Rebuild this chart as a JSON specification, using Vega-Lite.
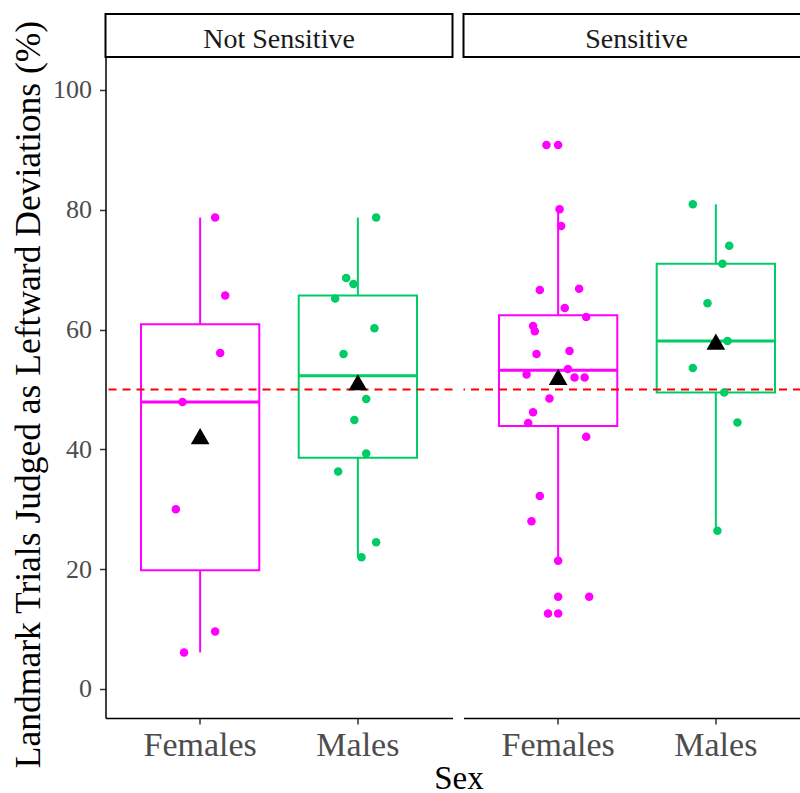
{
  "$schema": "https://vega.github.io/schema/vega-lite/v6.json",
  "padding": {"left": 11.5, "top": 13, "right": 0, "bottom": 0},
  "background": "white",
  "title": {"text": "Sex", "orient": "bottom", "anchor": "middle", "dx": 51, "offset": 21, "baseline": "alphabetic", "font": "Liberation Serif", "fontSize": 33, "fontWeight": "normal", "color": "black"},
  "config": {
    "view": {"stroke": null},
    "font": "Liberation Serif",
    "text": {"font": "Liberation Serif"},
    "axis": {"labelFont": "Liberation Serif", "titleFont": "Liberation Serif"}
  },
  "datasets": {
    "summary": [
      {"panel": "Not Sensitive", "sex": "Females", "lower": 6.1, "q1": 19.8, "median": 47.9, "q3": 60.9, "upper": 78.7, "mean": 42.2},
      {"panel": "Not Sensitive", "sex": "Males", "lower": 22.0, "q1": 38.6, "median": 52.3, "q3": 65.7, "upper": 78.7, "mean": 51.2},
      {"panel": "Sensitive", "sex": "Females", "lower": 21.4, "q1": 43.9, "median": 53.2, "q3": 62.4, "upper": 80.1, "mean": 52.1},
      {"panel": "Sensitive", "sex": "Males", "lower": 26.4, "q1": 49.5, "median": 58.1, "q3": 71.0, "upper": 80.9, "mean": 58.0}
    ],
    "points": [
      {"panel": "Not Sensitive", "sex": "Females", "value": 78.7, "jitter": 0.095},
      {"panel": "Not Sensitive", "sex": "Females", "value": 65.7, "jitter": 0.159},
      {"panel": "Not Sensitive", "sex": "Females", "value": 56.1, "jitter": 0.127},
      {"panel": "Not Sensitive", "sex": "Females", "value": 47.9, "jitter": -0.112},
      {"panel": "Not Sensitive", "sex": "Females", "value": 30.0, "jitter": -0.154},
      {"panel": "Not Sensitive", "sex": "Females", "value": 9.6, "jitter": 0.095},
      {"panel": "Not Sensitive", "sex": "Females", "value": 6.1, "jitter": -0.102},
      {"panel": "Not Sensitive", "sex": "Males", "value": 78.7, "jitter": 0.116},
      {"panel": "Not Sensitive", "sex": "Males", "value": 68.6, "jitter": -0.074},
      {"panel": "Not Sensitive", "sex": "Males", "value": 67.6, "jitter": -0.028},
      {"panel": "Not Sensitive", "sex": "Males", "value": 65.2, "jitter": -0.144},
      {"panel": "Not Sensitive", "sex": "Males", "value": 60.2, "jitter": 0.105},
      {"panel": "Not Sensitive", "sex": "Males", "value": 55.9, "jitter": -0.091},
      {"panel": "Not Sensitive", "sex": "Males", "value": 48.4, "jitter": 0.053},
      {"panel": "Not Sensitive", "sex": "Males", "value": 44.9, "jitter": -0.022},
      {"panel": "Not Sensitive", "sex": "Males", "value": 39.3, "jitter": 0.053},
      {"panel": "Not Sensitive", "sex": "Males", "value": 36.3, "jitter": -0.125},
      {"panel": "Not Sensitive", "sex": "Males", "value": 24.5, "jitter": 0.116},
      {"panel": "Not Sensitive", "sex": "Males", "value": 22.0, "jitter": 0.023},
      {"panel": "Sensitive", "sex": "Females", "value": 90.8, "jitter": -0.074},
      {"panel": "Sensitive", "sex": "Females", "value": 90.8, "jitter": 0.0},
      {"panel": "Sensitive", "sex": "Females", "value": 80.1, "jitter": 0.009},
      {"panel": "Sensitive", "sex": "Females", "value": 77.3, "jitter": 0.019},
      {"panel": "Sensitive", "sex": "Females", "value": 66.6, "jitter": -0.116},
      {"panel": "Sensitive", "sex": "Females", "value": 66.8, "jitter": 0.133},
      {"panel": "Sensitive", "sex": "Females", "value": 63.6, "jitter": 0.042},
      {"panel": "Sensitive", "sex": "Females", "value": 62.1, "jitter": 0.178},
      {"panel": "Sensitive", "sex": "Females", "value": 60.6, "jitter": -0.159},
      {"panel": "Sensitive", "sex": "Females", "value": 59.7, "jitter": -0.148},
      {"panel": "Sensitive", "sex": "Females", "value": 55.9, "jitter": -0.137},
      {"panel": "Sensitive", "sex": "Females", "value": 56.4, "jitter": 0.072},
      {"panel": "Sensitive", "sex": "Females", "value": 53.4, "jitter": 0.062},
      {"panel": "Sensitive", "sex": "Females", "value": 52.5, "jitter": -0.2},
      {"panel": "Sensitive", "sex": "Females", "value": 52.0, "jitter": 0.104},
      {"panel": "Sensitive", "sex": "Females", "value": 52.0, "jitter": 0.168},
      {"panel": "Sensitive", "sex": "Females", "value": 48.5, "jitter": -0.055},
      {"panel": "Sensitive", "sex": "Females", "value": 46.2, "jitter": -0.159},
      {"panel": "Sensitive", "sex": "Females", "value": 44.4, "jitter": -0.19},
      {"panel": "Sensitive", "sex": "Females", "value": 42.1, "jitter": 0.178},
      {"panel": "Sensitive", "sex": "Females", "value": 32.2, "jitter": -0.116},
      {"panel": "Sensitive", "sex": "Females", "value": 28.0, "jitter": -0.169},
      {"panel": "Sensitive", "sex": "Females", "value": 21.4, "jitter": 0.0},
      {"panel": "Sensitive", "sex": "Females", "value": 15.4, "jitter": 0.0},
      {"panel": "Sensitive", "sex": "Females", "value": 15.4, "jitter": 0.197},
      {"panel": "Sensitive", "sex": "Females", "value": 12.6, "jitter": -0.064},
      {"panel": "Sensitive", "sex": "Females", "value": 12.6, "jitter": 0.0},
      {"panel": "Sensitive", "sex": "Males", "value": 80.9, "jitter": -0.146},
      {"panel": "Sensitive", "sex": "Males", "value": 74.0, "jitter": 0.085},
      {"panel": "Sensitive", "sex": "Males", "value": 71.0, "jitter": 0.042},
      {"panel": "Sensitive", "sex": "Males", "value": 64.4, "jitter": -0.053},
      {"panel": "Sensitive", "sex": "Males", "value": 58.1, "jitter": 0.074},
      {"panel": "Sensitive", "sex": "Males", "value": 53.6, "jitter": -0.146},
      {"panel": "Sensitive", "sex": "Males", "value": 49.5, "jitter": 0.053},
      {"panel": "Sensitive", "sex": "Males", "value": 44.5, "jitter": 0.137},
      {"panel": "Sensitive", "sex": "Males", "value": 26.4, "jitter": 0.01}
    ]
  },
  "spacing": 9,
  "hconcat": [
    {
      "spacing": 0,
      "bounds": "flush",
      "vconcat": [
        {
          "width": 347,
          "height": 43,
          "view": {"stroke": "black", "strokeWidth": 2, "fill": "white"},
          "data": {"values": [{"panel": "Not Sensitive"}]},
          "mark": {"type": "text", "font": "Liberation Serif", "fontSize": 28, "color": "#1A1A1A", "baseline": "alphabetic", "dy": 12},
          "encoding": {"text": {"field": "panel"}}
        },
        {
          "width": 347,
          "height": 661,
          "encoding": {
            "x": {
              "field": "sex", "type": "nominal", "sort": ["Females", "Males"],
              "scale": {"type": "band", "paddingInner": 0.25, "paddingOuter": 0.225},
              "axis": {
                "title": null,
                "labelAngle": 0, "labelFontSize": 34, "labelColor": "#4D4D4D", "labelBaseline": "alphabetic", "labelPadding": 31,
                "tickSize": 6, "tickColor": "#333333", "tickWidth": 1.5, "domainColor": "black", "domainWidth": 1.5, "grid": false
              }
            }
          },
          "layer": [
            {
              "data": {"name": "summary"},
              "transform": [{"filter": "datum.panel === 'Not Sensitive'"}],
              "layer": [
                {
                  "mark": {"type": "bar", "fill": "white", "strokeWidth": 2, "width": 118.3},
                  "encoding": {
                    "y": {
                      "field": "q1", "type": "quantitative",
                      "scale": {"domain": [-4.85, 105.5], "nice": false, "zero": false},
                      "axis": {
                        "values": [0, 20, 40, 60, 80, 100], "grid": false,
                        "title": "Landmark Trials Judged as Leftward Deviations (%)",
                        "domainColor": "black", "domainWidth": 1.5, "tickColor": "#333333", "tickSize": 6, "tickWidth": 1.5,
                        "labelFontSize": 26, "labelColor": "#4D4D4D", "labelPadding": 8,
                        "titleFontSize": 35.5, "titleFontWeight": "normal", "titleColor": "black",
                        "titleX": -77, "titleY": 337, "titleBaseline": "middle"
                      }
                    },
                    "y2": {"field": "q3"},
                    "stroke": {"field": "sex", "type": "nominal", "scale": {"domain": ["Females", "Males"], "range": ["#FF00FF", "#00CC66"]}, "legend": null}
                  }
                },
                {
                  "mark": {"type": "rule", "strokeWidth": 2},
                  "encoding": {
                    "y": {"field": "lower", "type": "quantitative", "scale": {"domain": [-4.85, 105.5], "nice": false, "zero": false}},
                    "y2": {"field": "q1"},
                    "stroke": {"field": "sex", "type": "nominal", "scale": {"domain": ["Females", "Males"], "range": ["#FF00FF", "#00CC66"]}, "legend": null}
                  }
                },
                {
                  "mark": {"type": "rule", "strokeWidth": 2},
                  "encoding": {
                    "y": {"field": "q3", "type": "quantitative", "scale": {"domain": [-4.85, 105.5], "nice": false, "zero": false}},
                    "y2": {"field": "upper"},
                    "stroke": {"field": "sex", "type": "nominal", "scale": {"domain": ["Females", "Males"], "range": ["#FF00FF", "#00CC66"]}, "legend": null}
                  }
                },
                {
                  "mark": {"type": "tick", "size": 118, "thickness": 3, "opacity": 1},
                  "encoding": {
                    "y": {"field": "median", "type": "quantitative", "scale": {"domain": [-4.85, 105.5], "nice": false, "zero": false}},
                    "color": {"field": "sex", "type": "nominal", "scale": {"domain": ["Females", "Males"], "range": ["#FF00FF", "#00CC66"]}, "legend": null}
                  }
                }
              ]
            },
            {
              "data": {"values": [{"ref": 50}]},
              "mark": {"type": "rule", "color": "#FF0000", "strokeWidth": 2, "strokeDash": [8, 6]},
              "encoding": {"x": null, "y": {"field": "ref", "type": "quantitative", "scale": {"domain": [-4.85, 105.5], "nice": false, "zero": false}}}
            },
            {
              "data": {"name": "points"},
              "transform": [{"filter": "datum.panel === 'Not Sensitive'"}],
              "mark": {"type": "point", "filled": true, "size": 72, "opacity": 1, "shape": "circle"},
              "encoding": {
                "xOffset": {"field": "jitter", "type": "quantitative", "scale": {"domain": [-0.375, 0.375]}},
                "y": {"field": "value", "type": "quantitative", "scale": {"domain": [-4.85, 105.5], "nice": false, "zero": false}},
                "color": {"field": "sex", "type": "nominal", "scale": {"domain": ["Females", "Males"], "range": ["#FF00FF", "#00CC66"]}, "legend": null}
              }
            },
            {
              "data": {"name": "summary"},
              "transform": [{"filter": "datum.panel === 'Not Sensitive'"}],
              "mark": {"type": "point", "filled": true, "shape": "triangle-up", "size": 350, "color": "black", "opacity": 1},
              "encoding": {
                "y": {"field": "mean", "type": "quantitative", "scale": {"domain": [-4.85, 105.5], "nice": false, "zero": false}}
              }
            }
          ]
        }
      ]
    },
    {
      "spacing": 0,
      "bounds": "flush",
      "vconcat": [
        {
          "width": 340,
          "height": 43,
          "view": {"stroke": "black", "strokeWidth": 2, "fill": "white"},
          "data": {"values": [{"panel": "Sensitive"}]},
          "mark": {"type": "text", "font": "Liberation Serif", "fontSize": 28, "color": "#1A1A1A", "baseline": "alphabetic", "dy": 12, "dx": 3},
          "encoding": {"text": {"field": "panel"}}
        },
        {
          "width": 337.5,
          "height": 661,
          "encoding": {
            "x": {
              "field": "sex", "type": "nominal", "sort": ["Females", "Males"],
              "scale": {"type": "band", "paddingInner": 0.25, "paddingOuter": 0.195, "align": 0.577},
              "axis": {
                "title": null,
                "labelAngle": 0, "labelFontSize": 34, "labelColor": "#4D4D4D", "labelBaseline": "alphabetic", "labelPadding": 31,
                "tickSize": 6, "tickColor": "#333333", "tickWidth": 1.5, "domainColor": "black", "domainWidth": 1.5, "grid": false
              }
            }
          },
          "layer": [
            {
              "data": {"name": "summary"},
              "transform": [{"filter": "datum.panel === 'Sensitive'"}],
              "layer": [
                {
                  "mark": {"type": "bar", "fill": "white", "strokeWidth": 2, "width": 118.3},
                  "encoding": {
                    "y": {"field": "q1", "type": "quantitative", "scale": {"domain": [-4.85, 105.5], "nice": false, "zero": false}, "axis": null},
                    "y2": {"field": "q3"},
                    "stroke": {"field": "sex", "type": "nominal", "scale": {"domain": ["Females", "Males"], "range": ["#FF00FF", "#00CC66"]}, "legend": null}
                  }
                },
                {
                  "mark": {"type": "rule", "strokeWidth": 2},
                  "encoding": {
                    "y": {"field": "lower", "type": "quantitative", "scale": {"domain": [-4.85, 105.5], "nice": false, "zero": false}, "axis": null},
                    "y2": {"field": "q1"},
                    "stroke": {"field": "sex", "type": "nominal", "scale": {"domain": ["Females", "Males"], "range": ["#FF00FF", "#00CC66"]}, "legend": null}
                  }
                },
                {
                  "mark": {"type": "rule", "strokeWidth": 2},
                  "encoding": {
                    "y": {"field": "q3", "type": "quantitative", "scale": {"domain": [-4.85, 105.5], "nice": false, "zero": false}, "axis": null},
                    "y2": {"field": "upper"},
                    "stroke": {"field": "sex", "type": "nominal", "scale": {"domain": ["Females", "Males"], "range": ["#FF00FF", "#00CC66"]}, "legend": null}
                  }
                },
                {
                  "mark": {"type": "tick", "size": 118, "thickness": 3, "opacity": 1},
                  "encoding": {
                    "y": {"field": "median", "type": "quantitative", "scale": {"domain": [-4.85, 105.5], "nice": false, "zero": false}, "axis": null},
                    "color": {"field": "sex", "type": "nominal", "scale": {"domain": ["Females", "Males"], "range": ["#FF00FF", "#00CC66"]}, "legend": null}
                  }
                }
              ]
            },
            {
              "data": {"values": [{"ref": 50}]},
              "mark": {"type": "rule", "color": "#FF0000", "strokeWidth": 2, "strokeDash": [8, 6]},
              "encoding": {"x": null, "y": {"field": "ref", "type": "quantitative", "scale": {"domain": [-4.85, 105.5], "nice": false, "zero": false}, "axis": null}}
            },
            {
              "data": {"name": "points"},
              "transform": [{"filter": "datum.panel === 'Sensitive'"}],
              "mark": {"type": "point", "filled": true, "size": 72, "opacity": 1, "shape": "circle"},
              "encoding": {
                "xOffset": {"field": "jitter", "type": "quantitative", "scale": {"domain": [-0.375, 0.375]}},
                "y": {"field": "value", "type": "quantitative", "scale": {"domain": [-4.85, 105.5], "nice": false, "zero": false}, "axis": null},
                "color": {"field": "sex", "type": "nominal", "scale": {"domain": ["Females", "Males"], "range": ["#FF00FF", "#00CC66"]}, "legend": null}
              }
            },
            {
              "data": {"name": "summary"},
              "transform": [{"filter": "datum.panel === 'Sensitive'"}],
              "mark": {"type": "point", "filled": true, "shape": "triangle-up", "size": 350, "color": "black", "opacity": 1},
              "encoding": {
                "y": {"field": "mean", "type": "quantitative", "scale": {"domain": [-4.85, 105.5], "nice": false, "zero": false}, "axis": null}
              }
            }
          ]
        }
      ]
    }
  ]
}
